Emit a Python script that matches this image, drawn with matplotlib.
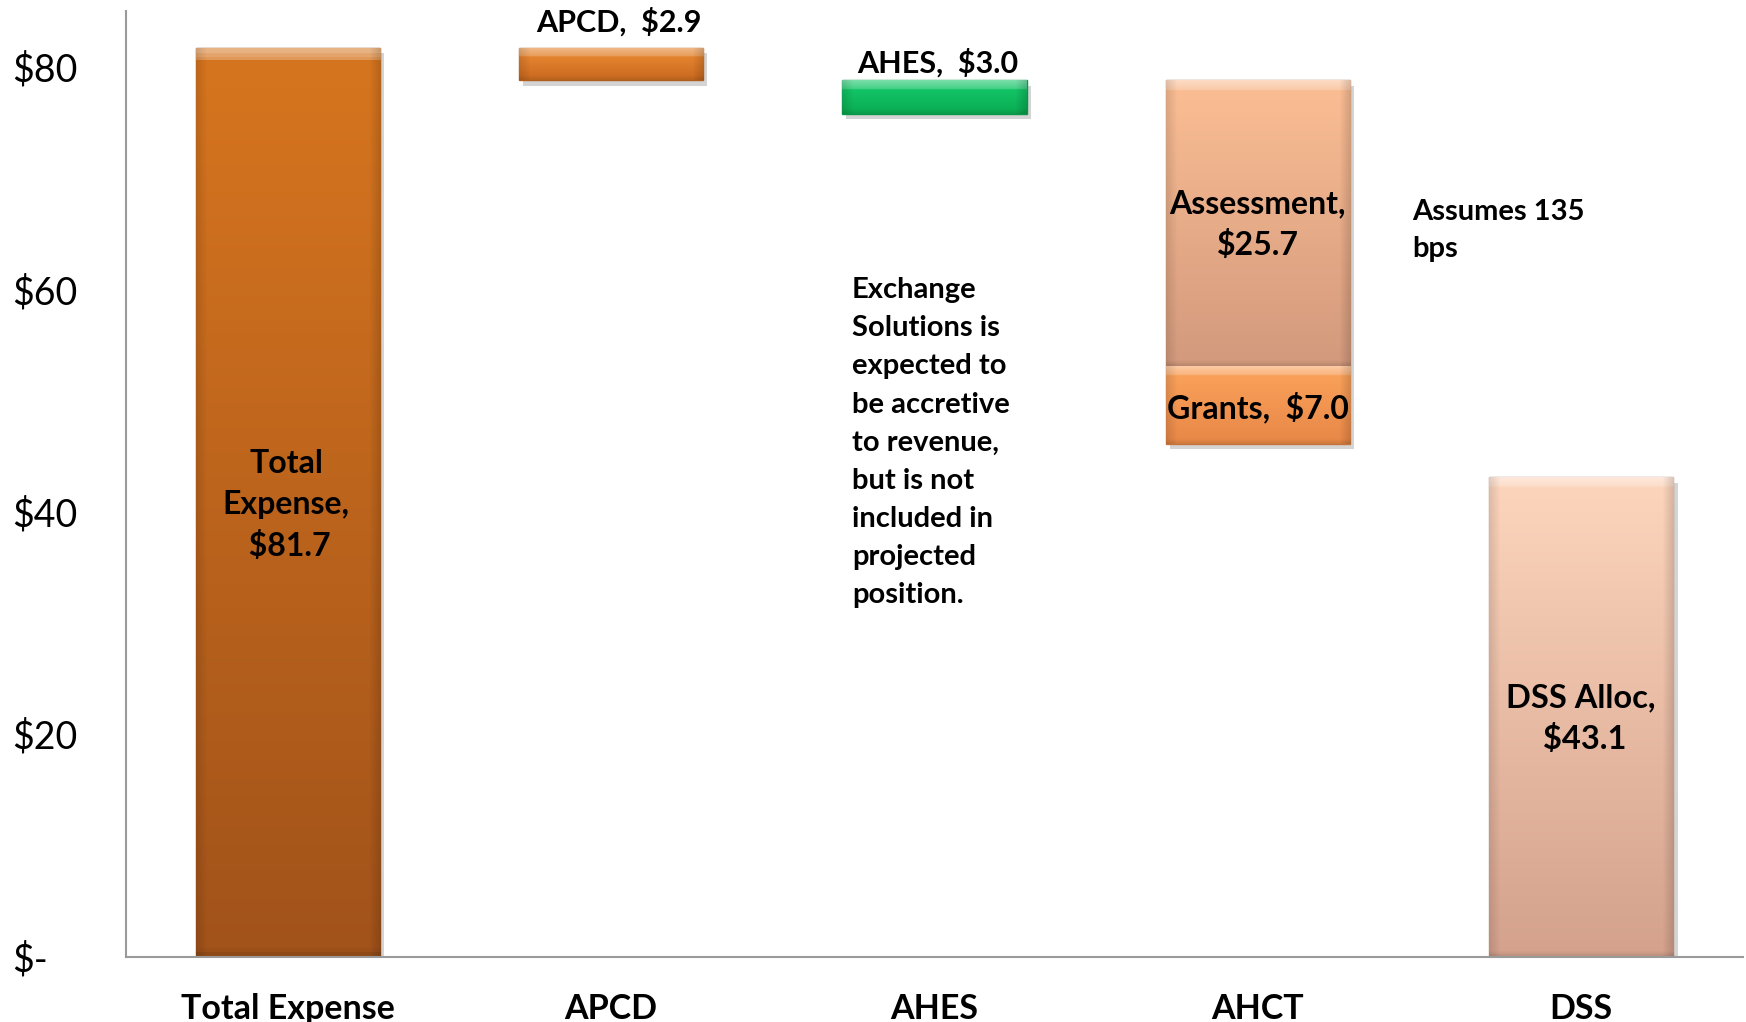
import matplotlib
matplotlib.use('Agg')
import matplotlib.pyplot as plt
import numpy as np
from matplotlib import patheffects as pe
from matplotlib.colors import LinearSegmentedColormap, to_rgb

# ---- data ----
categories = ['Total Expense', 'APCD', 'AHES', 'AHCT', 'DSS']
total_expense = 81.7
apcd = 2.9
ahes = 3.0
assessment = 25.7
grants = 7.0
dss_alloc = 43.1
yticks = [0, 20, 40, 60, 80]
ytick_labels = ['$-', '$20', '$40', '$60', '$80']

FONT = 'Lato'
plt.rcParams['font.family'] = [FONT, 'DejaVu Sans']

W, H, DPI = 17.46, 10.22, 100
fig = plt.figure(figsize=(W, H), dpi=DPI)
ax = fig.add_axes([0.0722, 0.064, 0.926, 0.925])
YMAX = 85
ax.set_xlim(-0.5, 4.5)
ax.set_ylim(0, YMAX)

ax_h_px = 0.925 * H * DPI
px_per_unit = ax_h_px / YMAX

bw = 0.57

after_apcd = total_expense - apcd
segments = [
    (0, 0, total_expense, '#D6751F', '#A2531A'),
    (1, after_apcd, apcd, '#E4842F', '#CF6E22'),
    (2, after_apcd - ahes, ahes, '#12C466', '#0BB055'),
    (3, after_apcd - assessment, assessment, '#FABD93', '#D39A7D'),
    (3, after_apcd - assessment - grants, grants, '#F9A05A', '#E98948'),
    (4, 0, dss_alloc, '#FCD4BC', '#D4A28D'),
]

def lighten(c, f):
    r = np.array(to_rgb(c))
    return tuple(r + (1 - r) * f)

def darken(c, f):
    r = np.array(to_rgb(c))
    return tuple(r * (1 - f))

for xi, b, h, ctop, cbot in segments:
    bars = ax.bar(xi, h, bottom=b, width=bw, color=ctop, edgecolor=darken(cbot, 0.15),
                  linewidth=1.0, zorder=2)
    patch = bars.patches[0]
    patch.set_path_effects([pe.SimplePatchShadow(offset=(3, -4), alpha=0.25, shadow_rgbFace='#555555'),
                            pe.Normal()])
    hp = h * px_per_unit
    band = min(9.0 / hp, 0.3)
    bband = min(5.0 / hp, 0.15)
    cmap = LinearSegmentedColormap.from_list(
        'g', [(0, lighten(ctop, 0.45)), (band, lighten(ctop, 0.2)), (band + 0.001, ctop),
              (1 - bband, cbot), (1, darken(cbot, 0.12))])
    grad = np.linspace(0, 1, 256).reshape(-1, 1)
    im = ax.imshow(grad, extent=[xi - bw / 2, xi + bw / 2, b, b + h], aspect='auto',
                   cmap=cmap, origin='upper', zorder=3, interpolation='bilinear')
    im.set_clip_path(patch)
    side = LinearSegmentedColormap.from_list('s', [(0, (0, 0, 0, 0.12)), (0.06, (0, 0, 0, 0)),
                                                   (0.94, (0, 0, 0, 0)), (1, (0, 0, 0, 0.15))])
    im2 = ax.imshow(np.linspace(0, 1, 256).reshape(1, -1), extent=[xi - bw / 2, xi + bw / 2, b, b + h],
                    aspect='auto', cmap=side, zorder=3.5, interpolation='bilinear')
    im2.set_clip_path(patch)

ax.set_xlim(-0.5, 4.5)
ax.set_ylim(0, YMAX)

for s in ['top', 'right']:
    ax.spines[s].set_visible(False)
for s in ['left', 'bottom']:
    ax.spines[s].set_color('#9A9A9A')
    ax.spines[s].set_linewidth(1.5)
    ax.spines[s].set_zorder(5)
ax.set_xticks(range(len(categories)))
ax.set_xticklabels(categories, fontsize=24.5, fontweight='bold')
ax.set_yticks(yticks)
ax.set_yticklabels(ytick_labels, fontsize=27)
ax.tick_params(axis='both', length=0)
ax.tick_params(axis='x', pad=26)
ax.tick_params(axis='y', pad=82)
for lab in ax.get_yticklabels():
    lab.set_horizontalalignment('left')

lbl = dict(fontweight='bold', ha='center', va='center', zorder=6)
ax.text(-0.005, 40.6, 'Total\nExpense,\n $81.7', fontsize=23, linespacing=1.5, **lbl)
ax.text(1.025, 84.0, f'APCD,  ${apcd:.1f}', fontsize=22, **lbl)
ax.text(2.01, 80.4, f'AHES,  ${ahes:.1f}', fontsize=22, **lbl)
ax.text(3.0, 65.8, f'Assessment,\n${assessment:.1f}', fontsize=23, linespacing=1.45, **lbl)
ax.text(3.0, 49.4, f'Grants,  ${grants:.1f}', fontsize=23, **lbl)
ax.text(4.0, 21.4, f'DSS Alloc,\n ${dss_alloc:.1f}', fontsize=23.5, linespacing=1.5, **lbl)

ax.text(1.745, 61.1, 'Exchange\nSolutions is\nexpected to\nbe accretive\nto revenue,\nbut is not\nincluded in\nprojected\nposition.',
        fontsize=21, fontweight='bold', ha='left', va='top', linespacing=1.58, zorder=6)
ax.text(3.477, 65.3, 'Assumes 135\nbps', fontsize=21, fontweight='bold', ha='left', va='center',
        linespacing=1.5, zorder=6)

fig.savefig('out.png', dpi=DPI)
